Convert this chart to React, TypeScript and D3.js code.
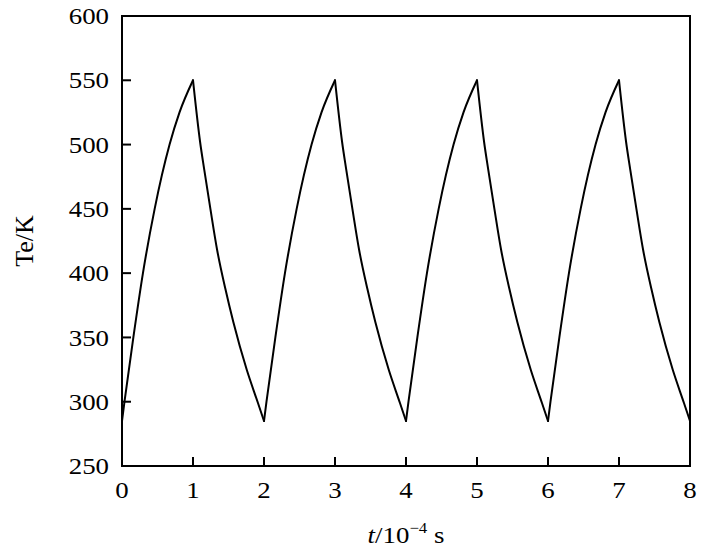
import React, { useRef, useEffect } from 'react';
import * as d3 from 'd3';

// time in 1e-4 s, temperature in K
const heatT = [
  [0, 0.035, 0.16, 0.295, 0.46, 0.67, 0.81, 1],
  [2, 2.035, 2.16, 2.295, 2.46, 2.67, 2.81, 3],
  [4, 4.035, 4.16, 4.295, 4.46, 4.67, 4.81, 5],
  [6, 6.035, 6.16, 6.295, 6.46, 6.67, 6.81, 7],
];
const heatTe = [285, 300, 350, 400, 450, 500, 525, 550];

const coolT = [
  [1, 1.1, 1.16, 1.245, 1.34, 1.455, 1.568, 1.756, 1.915, 2],
  [3, 3.1, 3.16, 3.245, 3.34, 3.455, 3.568, 3.756, 3.915, 4],
  [5, 5.1, 5.16, 5.245, 5.34, 5.455, 5.568, 5.756, 5.915, 6],
  [7, 7.1, 7.16, 7.245, 7.34, 7.455, 7.568, 7.756, 7.915, 8],
];
const coolTe = [550, 502, 480, 450, 418, 388, 362, 325, 299, 285];

const xTicks = [0, 1, 2, 3, 4, 5, 6, 7, 8];
const yTicks = [250, 300, 350, 400, 450, 500, 550, 600];

const W = 709, H = 554;
const margin = { left: 122, right: 19, top: 16, bottom: 88 };

const App = () => {
  const ref = useRef<SVGSVGElement>(null);

  useEffect(() => {
    if (!ref.current) return;
    const svg = d3.select(ref.current);
    svg.selectAll('*').remove();

    const x = d3.scaleLinear().domain([0, 8]).range([margin.left, W - margin.right]);
    const y = d3.scaleLinear().domain([250, 600]).range([H - margin.bottom, margin.top]);

    const segments: [number, number][][] = [];
    heatT.forEach((ts, i) => {
      segments.push(ts.map((t, j) => [t, heatTe[j]]));
      segments.push(coolT[i].map((t, j) => [t, coolTe[j]]));
    });

    const line = d3.line<[number, number]>()
      .x(d => x(d[0]))
      .y(d => y(d[1]))
      .curve(d3.curveMonotoneX);

    svg.append('g')
      .selectAll('path')
      .data(segments)
      .join('path')
      .attr('d', d => line(d))
      .attr('fill', 'none')
      .attr('stroke', '#000')
      .attr('stroke-width', 2)
      .attr('stroke-linecap', 'round');

    const font = "'Liberation Serif', 'Times New Roman', Times, serif";

    // ticks, inward on left and bottom
    svg.append('g')
      .selectAll('line')
      .data(yTicks.slice(1, -1))
      .join('line')
      .attr('x1', x(0)).attr('x2', x(0) + 9)
      .attr('y1', d => y(d)).attr('y2', d => y(d))
      .attr('stroke', '#000').attr('stroke-width', 2);
    svg.append('g')
      .selectAll('line')
      .data(xTicks.slice(1, -1))
      .join('line')
      .attr('x1', d => x(d)).attr('x2', d => x(d))
      .attr('y1', y(250)).attr('y2', y(250) - 9)
      .attr('stroke', '#000').attr('stroke-width', 2);

    // frame
    svg.append('rect')
      .attr('x', x(0)).attr('y', y(600))
      .attr('width', x(8) - x(0)).attr('height', y(250) - y(600))
      .attr('fill', 'none').attr('stroke', '#000').attr('stroke-width', 2);

    // tick labels
    svg.append('g')
      .selectAll('text')
      .data(yTicks)
      .join('text')
      .attr('transform', d => `translate(${x(0) - 13},${y(d)}) scale(1.12,1)`)
      .attr('text-anchor', 'end')
      .attr('dy', '0.34em')
      .attr('font-family', font)
      .attr('font-size', 24)
      .text(d => d);
    svg.append('g')
      .selectAll('text')
      .data(xTicks)
      .join('text')
      .attr('transform', d => `translate(${x(d)},${y(250) + 32}) scale(1.12,1)`)
      .attr('text-anchor', 'middle')
      .attr('font-family', font)
      .attr('font-size', 24)
      .text(d => d);

    // axis titles
    svg.append('text')
      .attr('transform', `translate(33,${(y(250) + y(600)) / 2}) rotate(-90)`)
      .attr('text-anchor', 'middle')
      .attr('font-family', font)
      .attr('font-size', 26)
      .text('Te/K');

    const xl = svg.append('text')
      .attr('transform', `translate(${(x(0) + x(8)) / 2},543) scale(1.12,1)`)
      .attr('text-anchor', 'middle')
      .attr('font-family', font)
      .attr('font-size', 24);
    xl.append('tspan').attr('font-style', 'italic').text('t');
    xl.append('tspan').text('/10');
    xl.append('tspan').attr('font-size', 15).attr('dy', -10).text('\u22124');
    xl.append('tspan').attr('dy', 10).text('\u00a0s');
  }, []);

  return (
    <svg
      ref={ref}
      width={W}
      height={H}
      style={{ position: 'absolute', left: 0, top: 0, background: '#fff' }}
    />
  );
};

export default App;
